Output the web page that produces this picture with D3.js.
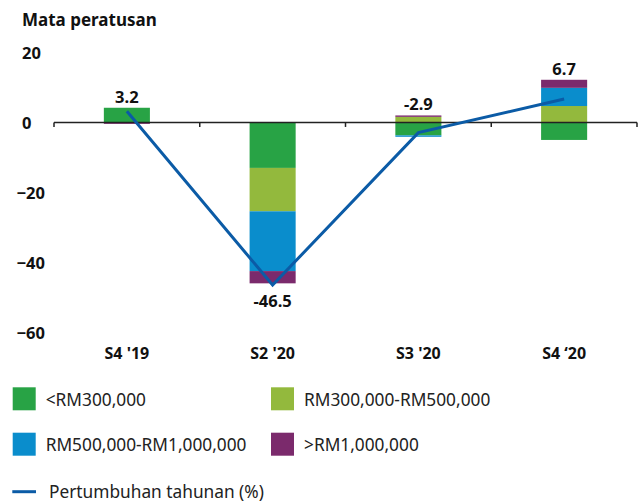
<!DOCTYPE html>
<html>
<head>
<meta charset="utf-8">
<script src="https://cdn.jsdelivr.net/npm/d3@7"></script>
<style>
  html, body { margin: 0; padding: 0; background: #fff; }
  svg { display: block; }
  text { font-family: "Noto Sans", "Open Sans", sans-serif; fill: #111; }
</style>
</head>
<body>
<svg id="chart" width="643" height="502"></svg>
<script>
// ---- data ----
const categories = ["S4 '19", "S2 '20", "S3 '20", "S4 \u201820"];
const seriesNames = ["<RM300,000", "RM300,000-RM500,000", "RM500,000-RM1,000,000", ">RM1,000,000"];
const seriesColors = ["#28a345", "#93b93d", "#0a8dcc", "#7b2a6c"];
const below300k = [4.2, -13.0, -3.7, -5.0];
const from300kTo500k = [0, -12.4, 1.6, 4.7];
const from500kTo1m = [0, -17.1, -0.4, 5.2];
const above1m = [-0.4, -3.5, 0.4, 2.3];
const growth = [3.2, -46.5, -2.9, 6.7];
const growthLabels = ["3.2", "-46.5", "-2.9", "6.7"];
const yTicks = [20, 0, -20, -40, -60];
const titleText = "Mata peratusan";
const lineLegend = "Pertumbuhan tahunan (%)";

const seriesValues = [below300k, from300kTo500k, from500kTo1m, above1m];
const rows = categories.map((c, i) => {
  const r = { cat: c };
  seriesNames.forEach((s, j) => r[s] = seriesValues[j][i]);
  return r;
});

const FONT = "'Noto Sans', 'Open Sans', sans-serif";
const svg = d3.select("#chart");

const x = d3.scaleBand().domain(categories).range([54, 637])
  .paddingInner(0.684).paddingOuter(0.342);
const bounds = d3.scaleBand().domain(categories).range([54, 637]).padding(0);
const y = d3.scaleLinear().domain([-60, 20]).range([332.3, 52.5]);

// title
svg.append("text").attr("x", 22).attr("y", 26)
  .style("font-size", "17px").style("font-weight", "700").text(titleText);

// y tick labels
const yAxis = d3.axisLeft(y).tickValues(yTicks).tickSize(0).tickFormat(d3.format("d"));
const gy = svg.append("g").call(yAxis);
gy.select(".domain").remove();
gy.selectAll("text")
  .attr("x", d => d < 0 ? 16.5 : 22)
  .attr("dy", "0.35em")
  .attr("text-anchor", "start")
  .style("font-family", FONT)
  .style("font-size", "16.5px").style("font-weight", "700").style("fill", "#111");

// stacked bars
const stack = d3.stack().keys(seriesNames).offset(d3.stackOffsetDiverging);
const stacked = stack(rows);
svg.append("g").selectAll("g").data(stacked).join("g")
  .attr("fill", (d, i) => seriesColors[i])
  .selectAll("rect").data(d => d).join("rect")
  .attr("x", d => x(d.data.cat))
  .attr("width", x.bandwidth())
  .attr("y", d => y(Math.max(d[0], d[1])))
  .attr("height", d => Math.abs(y(d[0]) - y(d[1])));

// zero axis line with ticks at band boundaries
const gx = svg.append("g");
gx.append("line").attr("x1", bounds.range()[0]).attr("x2", bounds.range()[1])
  .attr("y1", y(0)).attr("y2", y(0)).attr("stroke", "#222").attr("stroke-width", 1.5);
const tickXs = categories.map(c => bounds(c)).concat([bounds.range()[1]]);
gx.selectAll("line.tick").data(tickXs).join("line").attr("class", "tick")
  .attr("x1", d => d).attr("x2", d => d)
  .attr("y1", y(0)).attr("y2", y(0) + 4.5)
  .attr("stroke", "#222").attr("stroke-width", 1.5);

// x labels
svg.append("g").selectAll("text").data(categories).join("text")
  .attr("x", d => x(d) + x.bandwidth() / 2)
  .attr("y", 359)
  .attr("text-anchor", "middle")
  .style("font-size", "16px").style("font-weight", "700")
  .text(d => d);

// growth line
const line = d3.line()
  .x((d, i) => x(categories[i]) + x.bandwidth() / 2)
  .y(d => y(d));
svg.append("path").datum(growth)
  .attr("d", line).attr("fill", "none")
  .attr("stroke", "#0b5ba6").attr("stroke-width", 3)
  .attr("stroke-linejoin", "miter");

// value labels
const tops = rows.map((r, i) => d3.sum(seriesValues, s => Math.max(0, s[i])));
const bottoms = rows.map((r, i) => d3.sum(seriesValues, s => Math.min(0, s[i])));
svg.append("g").selectAll("text").data(growthLabels).join("text")
  .attr("x", (d, i) => x(categories[i]) + x.bandwidth() / 2)
  .attr("y", (d, i) => tops[i] > 0 ? y(tops[i]) - 5 : y(bottoms[i]) + 24)
  .attr("text-anchor", "middle")
  .style("font-size", "16.5px").style("font-weight", "700")
  .text(d => d);

// legend
const legPos = [[12.7, 387.3], [271, 387.3], [12.7, 432.7], [271, 432.7]];
const leg = svg.append("g");
seriesNames.forEach((s, i) => {
  const [lx, ly] = legPos[i];
  leg.append("rect").attr("x", lx).attr("y", ly).attr("width", 23).attr("height", 23)
    .attr("fill", seriesColors[i]);
  leg.append("text").attr("x", lx + 33).attr("y", ly + 18.5)
    .style("font-size", "17.3px").style("fill", "#222").text(s);
});
leg.append("line").attr("x1", 12.3).attr("x2", 36).attr("y1", 491.7).attr("y2", 491.7)
  .attr("stroke", "#0b5ba6").attr("stroke-width", 3);
leg.append("text").attr("x", 49).attr("y", 497.5)
  .style("font-size", "17.3px").style("fill", "#222").text(lineLegend);
</script>
</body>
</html>
